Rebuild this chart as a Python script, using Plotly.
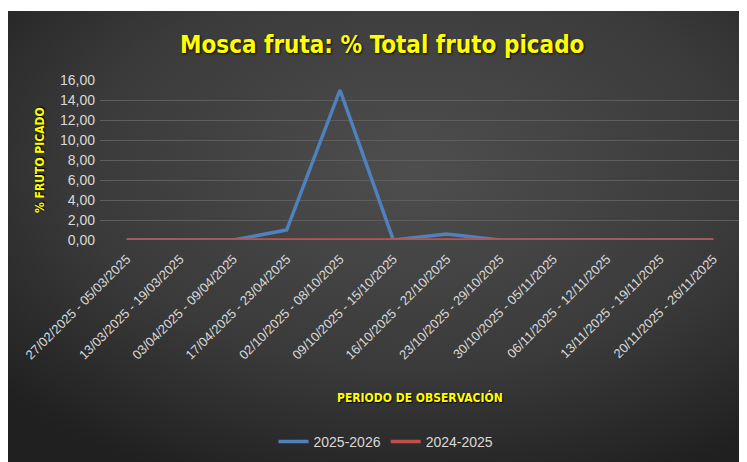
import base64
import plotly.graph_objects as go

categories = [
    "27/02/2025 - 05/03/2025", "13/03/2025 - 19/03/2025", "03/04/2025 - 09/04/2025",
    "17/04/2025 - 23/04/2025", "02/10/2025 - 08/10/2025", "09/10/2025 - 15/10/2025",
    "16/10/2025 - 22/10/2025", "23/10/2025 - 29/10/2025", "30/10/2025 - 05/11/2025",
    "06/11/2025 - 12/11/2025", "13/11/2025 - 19/11/2025", "20/11/2025 - 26/11/2025",
]
serie_2025_2026 = [0, 0, 0, 1.0, 15.0, 0, 0.6, 0, 0, 0, 0, 0]
serie_2024_2025 = [0, 0, 0, 0, 0, 0, 0, 0, 0, 0, 0, 0]
y_ticks = [0, 2, 4, 6, 8, 10, 12, 14, 16]
y_tick_labels = ["0,00", "2,00", "4,00", "6,00", "8,00", "10,00", "12,00", "14,00", "16,00"]

OFF = 8  # page body margin
W, H = 747 - OFF, 462 - OFF
# plot area in screen px
SL, SR, ST, SB = 100, 740, 80, 240
L, R, T, B = SL - OFF, SR - OFF, ST - OFF, SB - OFF
pw, ph = R - L, B - T

def px_x(x):  # screen px -> paper
    return (x - OFF - L) / pw

def px_y(y):
    return (B - (y - OFF)) / ph

svg = (
    '<svg xmlns="http://www.w3.org/2000/svg" width="739" height="451" viewBox="0 0 739 451" preserveAspectRatio="none">'
    '<defs><radialGradient id="g" cx="0.55" cy="0.35" r="0.75" fx="0.55" fy="0.35">'
    '<stop offset="0" stop-color="#4e4e4e"/><stop offset="0.6" stop-color="#3a3a3a"/>'
    '<stop offset="1" stop-color="#202020"/></radialGradient></defs>'
    '<rect width="739" height="451" fill="url(#g)"/></svg>'
)
src = "data:image/svg+xml;base64," + base64.b64encode(svg.encode()).decode()

fig = go.Figure()
fig.add_trace(go.Scatter(x=categories, y=serie_2025_2026, mode="lines", name="2025-2026",
                         line=dict(color="#4f81bd", width=3.5)))
fig.add_trace(go.Scatter(x=categories, y=serie_2024_2025, mode="lines", name="2024-2025",
                         line=dict(color="#c0504d", width=3.5)))

fig.update_layout(
    width=W, height=H,
    margin=dict(l=L, r=W - R, t=T, b=H - B, autoexpand=False),
    paper_bgcolor="white",
    plot_bgcolor="rgba(0,0,0,0)",
    showlegend=True,
    legend=dict(orientation="h", x=px_x(386), y=px_y(442), xanchor="center", yanchor="middle",
                font=dict(family="Liberation Sans, Arial", size=14, color="#d9d9d9"),
                bgcolor="rgba(0,0,0,0)", itemwidth=30, tracegroupgap=0),
    xaxis=dict(type="category", tickangle=-45, showgrid=False, zeroline=False, showline=False,
               ticks="", automargin=False, ticklabelstandoff=8,
               tickfont=dict(family="Liberation Sans, Arial", size=13, color="#d9d9d9"),
               range=[-0.5, 11.5]),
    yaxis=dict(range=[0, 16], tickvals=y_ticks, ticktext=y_tick_labels, showgrid=True,
               gridcolor="#5e5e5e", gridwidth=1, zeroline=False, showline=False, ticks="",
               automargin=False, ticklabelstandoff=4,
               tickfont=dict(family="Liberation Sans, Arial", size=14, color="#d9d9d9")),
    images=[dict(source=src, xref="paper", yref="paper", x=px_x(8), y=px_y(11),
                 sizex=(747 - 8) / pw, sizey=(462 - 11) / ph, xanchor="left", yanchor="top",
                 sizing="stretch", layer="below")],
    annotations=[
        dict(text="<b>Mosca fruta: % Total fruto picado</b>", xref="paper", yref="paper",
             x=px_x(382), y=px_y(45), xanchor="center", yanchor="middle", showarrow=False,
             font=dict(family="Liberation Sans Narrow, Arial Narrow, DejaVu Sans Condensed", size=24,
                       color="#ffff00", shadow="1px 1px 2px #000")),
        dict(text="<b>% FRUTO PICADO</b>", xref="paper", yref="paper",
             x=px_x(40), y=px_y(160), xanchor="center", yanchor="middle", textangle=-90,
             showarrow=False,
             font=dict(family="Liberation Sans Narrow, Arial Narrow, DejaVu Sans Condensed", size=12,
                       color="#ffff00", shadow="1px 1px 1px #000")),
        dict(text="<b>PERIODO DE OBSERVACIÓN</b>", xref="paper", yref="paper",
             x=px_x(420), y=px_y(397), xanchor="center", yanchor="middle", showarrow=False,
             font=dict(family="Liberation Sans Narrow, Arial Narrow, DejaVu Sans Condensed", size=12,
                       color="#ffff00", shadow="1px 1px 1px #000")),
    ],
)

fig.write_html("out.html")
